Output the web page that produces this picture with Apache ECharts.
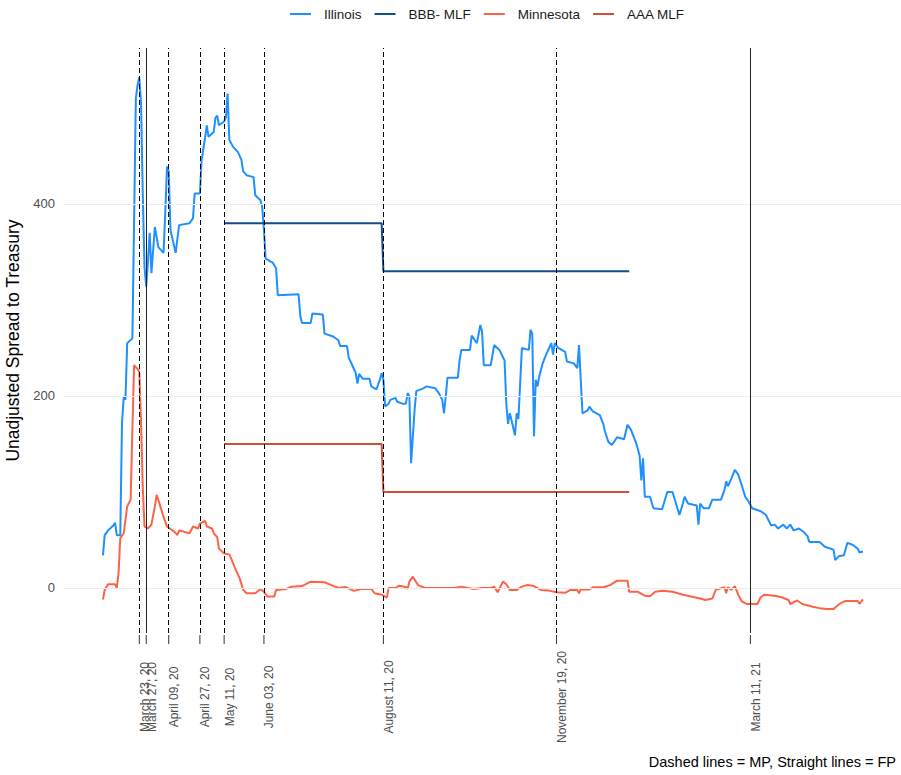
<!DOCTYPE html>
<html>
<head>
<meta charset="utf-8">
<script src="https://cdn.jsdelivr.net/npm/echarts@6/dist/echarts.min.js"></script>
<style>
  html, body { margin: 0; padding: 0; background: #ffffff; }
  #chart { width: 901px; height: 775px; }
</style>
</head>
<body>
<div id="chart"></div>
<script>
// Spread to Treasury (bp), Illinois and Minnesota, with Municipal Liquidity Facility pricing
const illinois = [
  ['2020-03-02', 34], ['2020-03-03', 55], ['2020-03-05', 60], ['2020-03-08', 65], ['2020-03-09', 68],
  ['2020-03-10', 55], ['2020-03-12', 55], ['2020-03-13', 172], ['2020-03-14', 199], ['2020-03-15', 196],
  ['2020-03-16', 255], ['2020-03-19', 260], ['2020-03-20', 383], ['2020-03-21', 510], ['2020-03-22', 524],
  ['2020-03-23', 532], ['2020-03-24', 505], ['2020-03-25', 411], ['2020-03-26', 334], ['2020-03-27', 314],
  ['2020-03-28', 340], ['2020-03-29', 370], ['2020-03-30', 328], ['2020-04-01', 376], ['2020-04-03', 355],
  ['2020-04-06', 349], ['2020-04-07', 391], ['2020-04-08', 439], ['2020-04-09', 434], ['2020-04-10', 373],
  ['2020-04-13', 349], ['2020-04-15', 378], ['2020-04-21', 380], ['2020-04-23', 385], ['2020-04-24', 411],
  ['2020-04-27', 411], ['2020-04-28', 446], ['2020-04-30', 469], ['2020-05-01', 482], ['2020-05-02', 470],
  ['2020-05-05', 475], ['2020-05-06', 490], ['2020-05-07', 492], ['2020-05-08', 482], ['2020-05-11', 486],
  ['2020-05-12', 490], ['2020-05-13', 515], ['2020-05-14', 467], ['2020-05-16', 460], ['2020-05-19', 454],
  ['2020-05-21', 446], ['2020-05-22', 434], ['2020-05-24', 430], ['2020-05-28', 428], ['2020-05-29', 409],
  ['2020-06-01', 404], ['2020-06-02', 397], ['2020-06-03', 373], ['2020-06-04', 343], ['2020-06-08', 339],
  ['2020-06-10', 333], ['2020-06-11', 305], ['2020-06-23', 306], ['2020-06-24', 283], ['2020-06-25', 276],
  ['2020-06-30', 276], ['2020-07-01', 286], ['2020-07-07', 285], ['2020-07-08', 265], ['2020-07-13', 262],
  ['2020-07-16', 258], ['2020-07-17', 252], ['2020-07-21', 252], ['2020-07-22', 240], ['2020-07-24', 232],
  ['2020-07-26', 224], ['2020-07-27', 213], ['2020-07-28', 223], ['2020-07-30', 218], ['2020-08-03', 218],
  ['2020-08-04', 210], ['2020-08-07', 207], ['2020-08-09', 217], ['2020-08-10', 224], ['2020-08-11', 217],
  ['2020-08-12', 189], ['2020-08-14', 192], ['2020-08-15', 196], ['2020-08-18', 198], ['2020-08-19', 194],
  ['2020-08-22', 192], ['2020-08-24', 192], ['2020-08-25', 203], ['2020-08-26', 200], ['2020-08-27', 130],
  ['2020-08-29', 185], ['2020-08-30', 205], ['2020-09-03', 208], ['2020-09-05', 210], ['2020-09-10', 208],
  ['2020-09-12', 203], ['2020-09-14', 196], ['2020-09-15', 182], ['2020-09-16', 199], ['2020-09-17', 219],
  ['2020-09-23', 219], ['2020-09-24', 237], ['2020-09-25', 248], ['2020-09-30', 248], ['2020-10-01', 263],
  ['2020-10-04', 255], ['2020-10-06', 274], ['2020-10-07', 267], ['2020-10-08', 232], ['2020-10-12', 232],
  ['2020-10-14', 253], ['2020-10-17', 248], ['2020-10-20', 237], ['2020-10-21', 192], ['2020-10-22', 171],
  ['2020-10-23', 182], ['2020-10-24', 175], ['2020-10-26', 159], ['2020-10-27', 182], ['2020-10-28', 176],
  ['2020-10-29', 213], ['2020-10-30', 250], ['2020-11-03', 248], ['2020-11-04', 269], ['2020-11-05', 265],
  ['2020-11-06', 158], ['2020-11-07', 217], ['2020-11-08', 210], ['2020-11-09', 220], ['2020-11-11', 234],
  ['2020-11-13', 243], ['2020-11-15', 251], ['2020-11-16', 255], ['2020-11-17', 243], ['2020-11-18', 255],
  ['2020-11-20', 250], ['2020-11-24', 246], ['2020-11-25', 236], ['2020-11-29', 234], ['2020-12-01', 229],
  ['2020-12-02', 253], ['2020-12-03', 217], ['2020-12-04', 182], ['2020-12-07', 185], ['2020-12-08', 189],
  ['2020-12-10', 184], ['2020-12-14', 180], ['2020-12-16', 171], ['2020-12-17', 163], ['2020-12-19', 152],
  ['2020-12-21', 149], ['2020-12-24', 157], ['2020-12-28', 155], ['2020-12-30', 170], ['2021-01-01', 165],
  ['2021-01-04', 151], ['2021-01-06', 138], ['2021-01-07', 112], ['2021-01-08', 135], ['2021-01-09', 95],
  ['2021-01-12', 95], ['2021-01-14', 83], ['2021-01-19', 82], ['2021-01-22', 100], ['2021-01-25', 100],
  ['2021-01-27', 88], ['2021-01-29', 76], ['2021-01-31', 88], ['2021-02-01', 95], ['2021-02-03', 88],
  ['2021-02-08', 86], ['2021-02-09', 66], ['2021-02-10', 88], ['2021-02-12', 83], ['2021-02-15', 83],
  ['2021-02-17', 92], ['2021-02-22', 92], ['2021-02-24', 102], ['2021-02-25', 111], ['2021-02-26', 106],
  ['2021-02-28', 114], ['2021-03-02', 123], ['2021-03-04', 118], ['2021-03-06', 107], ['2021-03-08', 95],
  ['2021-03-10', 90], ['2021-03-12', 83], ['2021-03-17', 80], ['2021-03-20', 76], ['2021-03-23', 65],
  ['2021-03-25', 66], ['2021-03-27', 62], ['2021-03-30', 66], ['2021-04-01', 62], ['2021-04-03', 66],
  ['2021-04-05', 60], ['2021-04-08', 62], ['2021-04-11', 58], ['2021-04-13', 54], ['2021-04-14', 48],
  ['2021-04-20', 48], ['2021-04-23', 43], ['2021-04-28', 40], ['2021-04-29', 29], ['2021-05-01', 33],
  ['2021-05-04', 34], ['2021-05-06', 47], ['2021-05-09', 45], ['2021-05-12', 41], ['2021-05-13', 37],
  ['2021-05-15', 38]
];

const minnesota = [
  ['2020-03-02', -12], ['2020-03-03', -2], ['2020-03-05', 4], ['2020-03-09', 4], ['2020-03-10', 0],
  ['2020-03-11', 15], ['2020-03-12', 52], ['2020-03-14', 57], ['2020-03-16', 85], ['2020-03-18', 92],
  ['2020-03-19', 165], ['2020-03-20', 232], ['2020-03-22', 228], ['2020-03-23', 225], ['2020-03-24', 173],
  ['2020-03-25', 105], ['2020-03-26', 64], ['2020-03-28', 62], ['2020-03-30', 66], ['2020-04-01', 85],
  ['2020-04-02', 97], ['2020-04-04', 86], ['2020-04-06', 74], ['2020-04-08', 64], ['2020-04-12', 59],
  ['2020-04-14', 55], ['2020-04-15', 60], ['2020-04-21', 57], ['2020-04-23', 64], ['2020-04-26', 62],
  ['2020-04-27', 67], ['2020-04-30', 70], ['2020-05-01', 64], ['2020-05-04', 62], ['2020-05-05', 57],
  ['2020-05-07', 53], ['2020-05-08', 41], ['2020-05-11', 36], ['2020-05-14', 35], ['2020-05-15', 31],
  ['2020-05-17', 22], ['2020-05-20', 10], ['2020-05-22', -2], ['2020-05-24', -5.5], ['2020-05-29', -5.5],
  ['2020-06-01', -1], ['2020-06-03', -4], ['2020-06-05', -9], ['2020-06-09', -9], ['2020-06-10', -2],
  ['2020-06-16', -1], ['2020-06-19', 1.4], ['2020-06-25', 2], ['2020-06-30', 6.6], ['2020-07-08', 6],
  ['2020-07-12', 3], ['2020-07-16', 0], ['2020-07-20', 1], ['2020-07-25', -3], ['2020-07-29', -1],
  ['2020-08-04', -1], ['2020-08-06', -5.5], ['2020-08-10', -7], ['2020-08-13', -10], ['2020-08-14', 0],
  ['2020-08-18', 0], ['2020-08-20', 2.4], ['2020-08-24', 1], ['2020-08-25', -1], ['2020-08-26', 6.6],
  ['2020-08-28', 11.8], ['2020-08-31', 3], ['2020-09-04', 0], ['2020-09-21', 0], ['2020-09-25', 1.4],
  ['2020-10-02', -1], ['2020-10-07', 0], ['2020-10-12', 0], ['2020-10-14', 1.4], ['2020-10-16', -4.5],
  ['2020-10-19', 6.6], ['2020-10-21', 3.8], ['2020-10-23', -2], ['2020-10-27', -2], ['2020-10-30', 1.4],
  ['2020-11-02', 3], ['2020-11-06', 2], ['2020-11-10', -2], ['2020-11-14', -2.5], ['2020-11-19', -4.5],
  ['2020-11-24', -5], ['2020-11-27', -2], ['2020-12-01', -2], ['2020-12-02', -5.5], ['2020-12-03', -1.5],
  ['2020-12-08', -1.5], ['2020-12-10', 0.7], ['2020-12-16', 0.7], ['2020-12-20', 3], ['2020-12-24', 7.6],
  ['2020-12-30', 7.6], ['2020-12-31', -4], ['2021-01-05', -4], ['2021-01-09', -8], ['2021-01-12', -8.7],
  ['2021-01-15', -4], ['2021-01-19', -3], ['2021-01-25', -4], ['2021-01-31', -7], ['2021-02-10', -11],
  ['2021-02-13', -12.5], ['2021-02-17', -11], ['2021-02-19', -2], ['2021-02-24', 0.7], ['2021-02-25', -5.5],
  ['2021-02-26', 0.7], ['2021-02-28', -2], ['2021-03-02', 2], ['2021-03-04', -7], ['2021-03-06', -14],
  ['2021-03-09', -16.7], ['2021-03-15', -16.7], ['2021-03-17', -9.7], ['2021-03-19', -7], ['2021-03-25', -8],
  ['2021-03-29', -9.7], ['2021-04-02', -12.5], ['2021-04-03', -16.7], ['2021-04-07', -13], ['2021-04-10', -16.7],
  ['2021-04-16', -19.5], ['2021-04-20', -21], ['2021-04-24', -22], ['2021-04-28', -22], ['2021-05-02', -16],
  ['2021-05-05', -13.5], ['2021-05-12', -13.5], ['2021-05-13', -16.7], ['2021-05-15', -11.8]
];

// MLF pricing: BBB- and AAA spreads, repriced on August 11
const bbbMlf = [['2020-05-11', 380], ['2020-08-10', 380], ['2020-08-11', 330], ['2020-12-31', 330]];
const aaaMlf = [['2020-05-11', 150], ['2020-08-10', 150], ['2020-08-11', 100], ['2020-12-31', 100]];

// Event dates: MP = dashed, FP = solid
const mpDates = ['2020-03-23', '2020-04-09', '2020-04-27', '2020-05-11', '2020-06-03', '2020-08-11', '2020-11-19'];
const fpDates = ['2020-03-27', '2021-03-11'];
const yTicks = [0, 200, 400];

const DAY = 86400000;
const MONTHS = ['January', 'February', 'March', 'April', 'May', 'June', 'July',
  'August', 'September', 'October', 'November', 'December'];
const LABEL_FONT = '12px "Liberation Sans", Arial, sans-serif';

function ts(s) {
  const p = s.split('-').map(Number);
  return Date.UTC(p[0], p[1] - 1, p[2]);
}
function toSeries(rows) {
  return rows.map(r => [ts(r[0]), r[1]]);
}
function dateLabel(v) {
  const d = new Date(v);
  const dd = String(d.getUTCDate()).padStart(2, '0');
  const yy = String(d.getUTCFullYear()).slice(2);
  return MONTHS[d.getUTCMonth()] + ' ' + dd + ', ' + yy;
}

const eventTs = mpDates.concat(fpDates).map(ts).sort((a, b) => a - b);
const start = ts(illinois[0][0]);

const chart = echarts.init(document.getElementById('chart'), null, { renderer: 'svg' });

const lineSeries = (name, rows, color, z) => ({
  name: name,
  type: 'line',
  data: toSeries(rows),
  showSymbol: false,
  symbol: 'none',
  z: z,
  lineStyle: { color: color, width: 2 },
  itemStyle: { color: color },
  emphasis: { disabled: true }
});

// tick mark and rotated date label under each event date
function renderEventTick(params, api) {
  const x = api.coord([api.value(0), 0])[0];
  const bottom = params.coordSys.y + params.coordSys.height;
  return {
    type: 'group',
    children: [
      {
        type: 'line',
        shape: { x1: x, y1: bottom + 2, x2: x, y2: bottom + 11 },
        style: { stroke: '#333333', lineWidth: 1 }
      },
      {
        type: 'text',
        x: x - 0.5,
        y: bottom + 64,
        rotation: Math.PI / 2,
        style: {
          text: dateLabel(api.value(0)),
          font: LABEL_FONT,
          fill: '#4d4d4d',
          align: 'center',
          verticalAlign: 'top'
        }
      }
    ]
  };
}

chart.setOption({
  animation: false,
  backgroundColor: '#ffffff',
  legend: {
    data: ['Illinois', 'BBB- MLF', 'Minnesota', 'AAA MLF'],
    left: 285,
    top: 2,
    icon: 'rect',
    itemWidth: 21,
    itemHeight: 2,
    itemGap: 13,
    textStyle: { fontFamily: 'Liberation Sans, Arial, sans-serif', fontSize: 13.5, color: '#1a1a1a', padding: [0, 0, 0, 8] }
  },
  grid: { left: 64, right: 0, top: 48, bottom: 142, outerBoundsMode: 'none', containLabel: false },
  xAxis: {
    // dates are held as UTC milliseconds on a linear scale
    type: 'value',
    min: start - 22.5 * DAY,
    max: start + 461 * DAY,
    axisLine: { show: false },
    axisTick: { show: false },
    axisLabel: { show: false },
    splitLine: { show: false }
  },
  yAxis: {
    type: 'value',
    min: -46.9,
    max: 562.5,
    name: 'Unadjusted Spread to Treasury',
    nameLocation: 'middle',
    nameGap: 39,
    nameTextStyle: { fontFamily: 'Liberation Sans, Arial, sans-serif', fontSize: 17.5, color: '#000000' },
    axisLine: { show: false },
    axisTick: { show: false },
    splitLine: { show: false },
    axisLabel: {
      customValues: yTicks,
      margin: 9,
      fontFamily: 'Liberation Sans, Arial, sans-serif',
      fontSize: 13,
      color: '#4d4d4d'
    }
  },
  graphic: [{
    type: 'text',
    right: 5,
    top: 754,
    style: {
      text: 'Dashed lines = MP, Straight lines = FP',
      font: '14.5px "Liberation Sans", Arial, sans-serif',
      fill: '#000000'
    }
  }],
  series: [
    {
      name: 'gridlines',
      type: 'line',
      data: [],
      z: 0,
      silent: true,
      markLine: {
        silent: true,
        symbol: 'none',
        label: { show: false },
        lineStyle: { color: '#ebebeb', width: 1.1, type: 'solid' },
        data: yTicks.map(v => ({ yAxis: v }))
      }
    },
    lineSeries('Illinois', illinois, '#1E90FF', 2),
    lineSeries('BBB- MLF', bbbMlf, '#104E8B', 3),
    lineSeries('Minnesota', minnesota, '#FF6347', 2),
    lineSeries('AAA MLF', aaaMlf, '#CD4F39', 3),
    {
      name: 'events',
      type: 'line',
      data: [],
      z: 10,
      silent: true,
      markLine: {
        silent: true,
        symbol: 'none',
        label: { show: false },
        data: mpDates.map(d => ({ xAxis: ts(d), lineStyle: { color: '#000000', width: 1, type: [5, 3] } }))
          .concat(fpDates.map(d => ({ xAxis: ts(d), lineStyle: { color: '#222222', width: 1, type: 'solid' } })))
      }
    },
    {
      name: 'eventAxis',
      type: 'custom',
      silent: true,
      clip: false,
      z: 10,
      data: eventTs.map(t => [t, 0]),
      renderItem: renderEventTick
    }
  ]
});
</script>
</body>
</html>
